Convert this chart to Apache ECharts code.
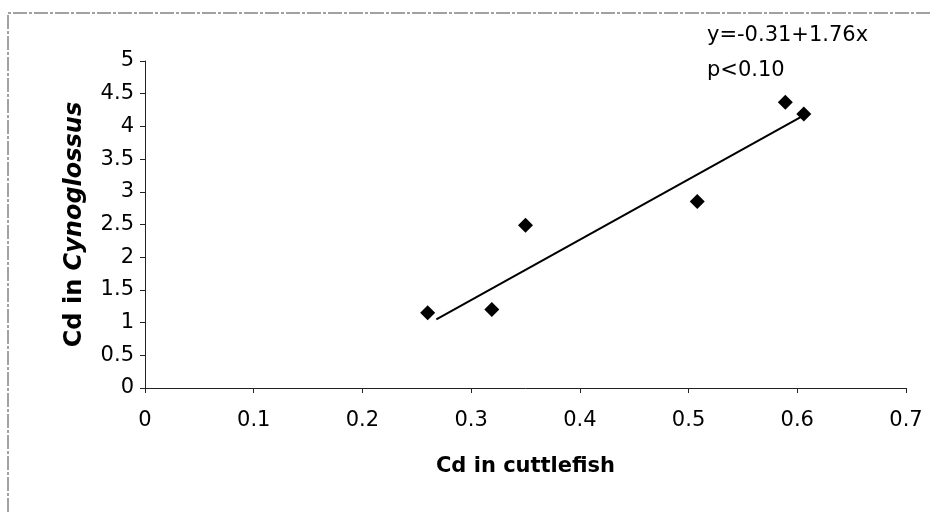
<!DOCTYPE html>
<html>
<head>
<meta charset="utf-8">
<script src="https://cdn.jsdelivr.net/npm/echarts@6/dist/echarts.min.js"></script>
<style>
  html, body { margin: 0; padding: 0; background: #fff; }
  #chart { width: 931px; height: 512px; }
</style>
</head>
<body>
<div id="chart"></div>
<script>
// Cd in cuttlefish (x) vs Cd in Cynoglossus (y)
var cuttlefish = [0.260, 0.319, 0.350, 0.508, 0.589, 0.606];
var cynoglossus = [1.15, 1.20, 2.49, 2.85, 4.37, 4.19];
// regression line as drawn (end points)
var fitX = [0.268, 0.606];
var fitY = [1.05, 4.17];
var xTicks = [0, 0.1, 0.2, 0.3, 0.4, 0.5, 0.6, 0.7];
var yTicks = [0, 0.5, 1, 1.5, 2, 2.5, 3, 3.5, 4, 4.5, 5];
var eqText = ['y=-0.31+1.76x', 'p<0.10'];

var font = '"DejaVu Sans", Arial, sans-serif';
var chart = echarts.init(document.getElementById('chart'));

var points = cuttlefish.map(function (x, i) { return [x, cynoglossus[i]]; });
var fit = fitX.map(function (x, i) { return [x, fitY[i]]; });

chart.setOption({
  animation: false,
  backgroundColor: '#fff',
  grid: { left: 145, right: 25, top: 61, bottom: 124 },
  graphic: [
    {
      type: 'polyline',
      shape: { points: [[8, 512], [8, 13], [931, 13]] },
      style: { stroke: '#444', lineWidth: 1, fill: null, lineDash: [14, 2, 3, 2] },
      silent: true
    },
    {
      type: 'text', left: 707, top: 25,
      style: { text: eqText[0], font: '21px ' + font, fill: '#000' }
    },
    {
      type: 'text', left: 707, top: 60,
      style: { text: eqText[1], font: '21px ' + font, fill: '#000' }
    }
  ],
  xAxis: {
    type: 'value', min: 0, max: 0.7, interval: 0.1,
    name: 'Cd in cuttlefish', nameLocation: 'middle', nameGap: 68,
    nameTextStyle: { fontFamily: font, fontSize: 21, fontWeight: 'bold', color: '#000' },
    axisLine: { lineStyle: { color: '#222', width: 1 } },
    axisTick: { show: true, inside: false, length: 5, lineStyle: { color: '#222' } },
    axisLabel: {
      fontFamily: font, fontSize: 21, color: '#000', margin: 22,
      formatter: function (v) { return xTicks.indexOf(Math.round(v * 10) / 10) >= 0 ? String(Math.round(v * 10) / 10) : ''; }
    },
    splitLine: { show: false }
  },
  yAxis: {
    type: 'value', min: 0, max: 5, interval: 0.5,
    name: '{a|Cd in }{b|Cynoglossus}', nameLocation: 'middle', nameGap: 58, nameRotate: 90,
    nameTextStyle: {
      rich: {
        a: { fontFamily: font, fontSize: 24, fontWeight: 'bold', color: '#000' },
        b: { fontFamily: font, fontSize: 24, fontWeight: 'bold', fontStyle: 'italic', color: '#000' }
      }
    },
    axisLine: { show: true, lineStyle: { color: '#222', width: 1 } },
    axisTick: { show: true, inside: false, length: 5, lineStyle: { color: '#222' } },
    axisLabel: {
      fontFamily: font, fontSize: 21, color: '#000', margin: 11,
      formatter: function (v) { return yTicks.indexOf(v) >= 0 ? String(v) : ''; }
    },
    splitLine: { show: false }
  },
  series: [
    {
      type: 'scatter', data: points, symbol: 'diamond', symbolSize: 15,
      itemStyle: { color: '#000', opacity: 1 }, z: 3
    },
    {
      type: 'line', data: fit, symbol: 'none',
      lineStyle: { color: '#000', width: 2 }, z: 2
    }
  ]
});
</script>
</body>
</html>
